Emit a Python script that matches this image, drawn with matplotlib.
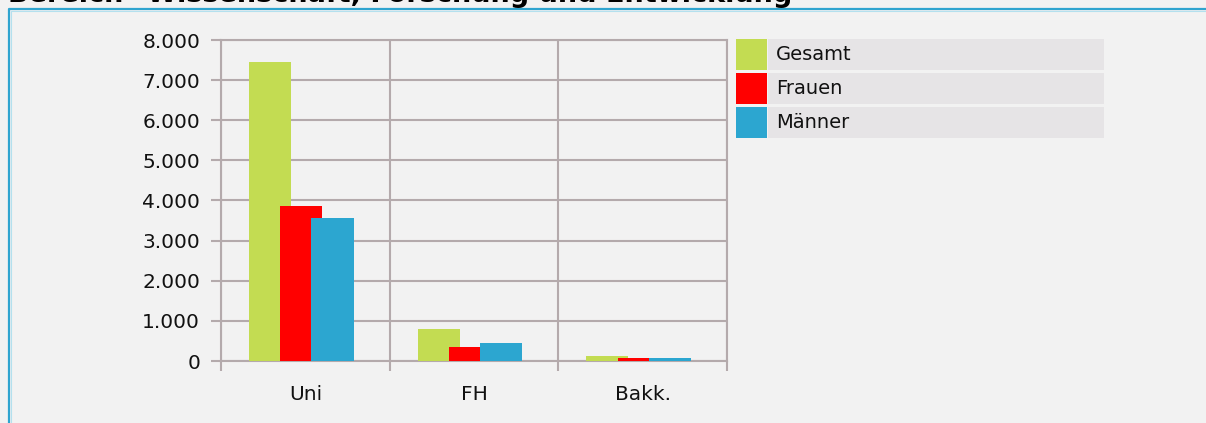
import matplotlib
matplotlib.use("Agg")
import matplotlib.pyplot as plt
from matplotlib.lines import Line2D
from matplotlib.patches import Rectangle

# Data
categories = ["Uni", "FH", "Bakk."]
series = ["Gesamt", "Frauen", "Männer"]
gesamt = [7450, 800, 130]
frauen = [3870, 340, 75]
maenner = [3560, 450, 65]
yticks = [0, 1000, 2000, 3000, 4000, 5000, 6000, 7000, 8000]
ytick_labels = ["0", "1.000", "2.000", "3.000", "4.000", "5.000", "6.000", "7.000", "8.000"]

COLORS = ["#c3dc52", "#ff0000", "#2ca6d0"]
GRID = "#b4aaac"
BG = "#f2f2f2"
W, H = 1206, 423

fig = plt.figure(figsize=(W / 100, H / 100), dpi=100, facecolor=BG)

# title (top half clipped by the page edge, as in the reference)
fig.text(8 / W, 1 - 2 / H, 'Bereich "Wissenschaft, Forschung und Entwicklung"',
         fontsize=19.5, fontweight="bold", ha="left", va="baseline")

# blue frame (top + left)
fig.add_artist(Line2D([9 / W, 9 / W, 1.0], [0.0, 1 - 9 / H, 1 - 9 / H],
                      transform=fig.transFigure, color="#2fa4cf", lw=1.6))
fig.add_artist(Line2D([11 / W, 11 / W, 1.0], [0.0, 1 - 11 / H, 1 - 11 / H],
                      transform=fig.transFigure, color="#b4e0ee", lw=0.8))

ax = fig.add_axes([221 / W, 1 - 361 / H, (727 - 221) / W, (361 - 40) / H])
ax.set_facecolor(BG)

width = 0.25
step = 0.185
for k, vals in enumerate([gesamt, frauen, maenner]):
    xs = [i + 0.476 + (k - 1) * step for i in range(len(categories))]
    ax.bar(xs, vals, width=width, color=COLORS[k], zorder=3 + k, linewidth=0)

ax.set_xlim(0, len(categories))
ax.set_ylim(0, 8000)
ax.set_yticks(yticks)
ax.set_yticklabels(ytick_labels)
ax.set_xticks(range(len(categories) + 1))
ax.set_xticklabels([])
ax.set_xticks([i + 0.5 for i in range(len(categories))], minor=True)
ax.set_xticklabels(categories, minor=True)
ax.grid(True, which="major", color=GRID, lw=1.5, zorder=1)
ax.set_axisbelow(True)
ax.tick_params(which="major", length=7, width=1.5, color=GRID,
               labelsize=14.5, pad=8, labelcolor="#111111")
ax.tick_params(axis="x", which="minor", length=0, labelsize=14.5, pad=17,
               labelcolor="#111111")
for s in ax.spines.values():
    s.set_color(GRID)
    s.set_linewidth(1.5)

# legend, drawn as in the reference: colour square + grey label strip
for k, name in enumerate(series):
    top = 39 + k * 34
    fig.add_artist(Rectangle((736 / W, 1 - (top + 31) / H), 31 / W, 31 / H,
                             transform=fig.transFigure, color=COLORS[k], lw=0))
    fig.add_artist(Rectangle((768 / W, 1 - (top + 31) / H), (1104 - 768) / W, 31 / H,
                             transform=fig.transFigure, color="#e6e4e6", lw=0))
    fig.text(776 / W, 1 - (top + 16) / H, name, fontsize=14, ha="left",
             va="center", color="#111111")

fig.savefig("out.png", dpi=100, facecolor=BG)
